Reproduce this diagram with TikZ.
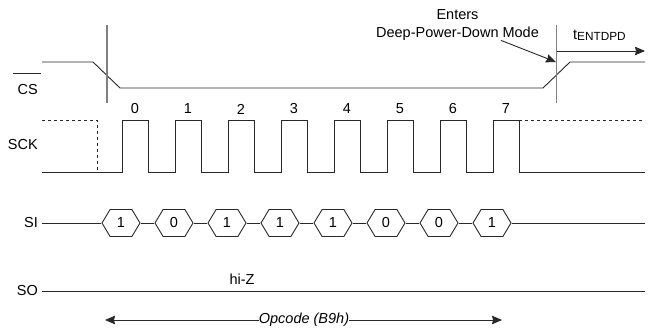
\documentclass[tikz,border=0pt]{standalone}
\usepackage{fontspec}
\setmainfont{Liberation Sans}
\usetikzlibrary{shapes.symbols,arrows.meta,positioning,calc}
\definecolor{wfline}{RGB}{40,40,40}
\definecolor{wfmark}{RGB}{128,128,128}

\begin{document}
\begin{tikzpicture}[x=1pt, y=-1pt,
  sig/.style={draw=wfline, line width=0.9pt},
  markline/.style={draw=wfmark, line width=1.4pt},
  lbl/.style={inner sep=0pt, font=\fontsize{14.5}{17.5}\selectfont},
  bit/.style={signal, signal to=east and west, signal pointer angle=118,
              draw=wfline, line width=0.9pt, minimum width=38pt, minimum height=27pt,
              inner sep=0pt, font=\fontsize{14.5}{17.5}\selectfont},
  arr/.style={sig, -{Stealth[length=10pt, width=8.5pt, inset=1pt]}}]

\useasboundingbox (0,0) rectangle (654,329);

\node[lbl, anchor=east] (cs) at (38,90) {CS};
\node[lbl, anchor=east] (sck) at (38,145) {SCK};
\node[lbl, anchor=east] (si) at (38,223) {SI};
\node[lbl, anchor=east] (so) at (38,291) {SO};
\draw[sig] ([xshift=-4pt, yshift=11pt]cs.north west) -- ([xshift=3pt, yshift=11pt]cs.north east);

\draw[sig] (42,62) -- (93,62) -- (120,88) -- (543,88) -- (570,62) -- (645,62);

\coordinate (m1t) at (107,25);
\coordinate (m1b) at (107,103);
\coordinate (m2t) at (556.7,25);
\coordinate (m2b) at (556.7,103);
\draw[markline] (m1t) -- (m1b);
\draw[markline] (m2t) -- (m2b);

\draw[sig] (42,172) foreach \k in {0,...,7} {
  -- ({122+53*\k},172) -- ({122+53*\k},120) -- ({148+53*\k},120) -- ({148+53*\k},172)
} -- (645,172);
\draw[sig, dashed] (42,120) -- (97,120) -- (97,172);
\draw[sig, dashed] (519,120) -- (645,120);
\foreach \k in {0,...,7}
  \node[lbl] (n\k) at ({135+53*\k},109) {\k};

\foreach \v [count=\i from 0] in {1,0,1,1,1,0,0,1}
  \node[bit] (b\i) at ({121+53*\i},223) {\v};
\coordinate (sis) at (42,223);
\coordinate (sie) at (645,223);
\draw[sig] (sis) -- (b0.west);
\foreach \i [evaluate=\i as \j using int(\i+1)] in {0,...,6}
  \draw[sig] (b\i.east) -- (b\j.west);
\draw[sig] (b7.east) -- (sie);

\coordinate (sos) at (42,291);
\coordinate (soe) at (645,291);
\draw[sig] (sos) -- (soe);
\node[lbl] (hiz) at (242,279) {hi-Z};

\node[lbl, align=center] (ent) at (457.5,25) {Enters\\Deep-Power-Down Mode};
\coordinate (entp) at (556,62);
\draw[arr] ($(ent.south east)+(-38,0)$) -- (entp);

\node[lbl, anchor=base west] (tdpd) at (573,39.5)
  {t{\fontsize{11.8}{12}\selectfont\raisebox{-1pt}{ENTDPD}}};
\coordinate (tdpds) at (557,51);
\coordinate (tdpde) at (645,51);
\draw[arr] (tdpds) -- (tdpde);

\node[lbl, font=\fontsize{14.5}{17.5}\selectfont\itshape] (opc) at (304,320) {Opcode (B9h)};
\coordinate (opcl) at (105,320);
\coordinate (opcr) at (502,320);
\draw[arr] (opc.west) -- (opcl);
\draw[arr] (opc.east) -- (opcr);
\end{tikzpicture}
\end{document}
